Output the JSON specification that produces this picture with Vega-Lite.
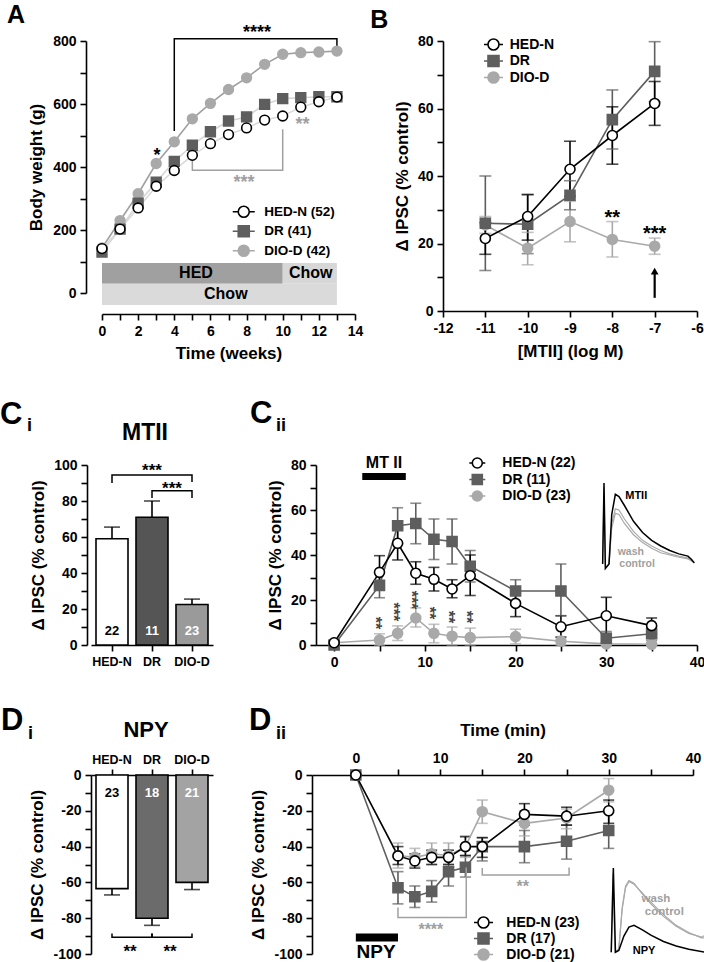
{
"$schema": "https://vega.github.io/schema/vega-lite/v6.json",
"padding": {"left": 0, "top": 3, "right": 0, "bottom": 0},
"spacing": 36,
"resolve": {"scale": {"color": "independent", "fill": "independent", "stroke": "independent", "shape": "independent"}, "legend": {"color": "independent", "fill": "independent", "stroke": "independent", "shape": "independent"}},
"config": {
 "font": "Liberation Sans",
 "view": {"stroke": null},
 "axis": {"domainColor": "#000", "domainWidth": 1.6, "tickColor": "#000", "tickWidth": 1.6, "tickSize": 6, "labelColor": "#000", "labelFontSize": 14, "labelFontWeight": "bold", "labelFont": "Liberation Sans", "labelOverlap": false, "labelFlush": false, "labelPadding": 4, "titleColor": "#000", "titleFontSize": 17, "titleFontWeight": "bold", "titleFont": "Liberation Sans", "titlePadding": 6, "grid": false},
 "legend": {"orient": "none", "title": null, "labelFontSize": 14, "labelFontWeight": "bold", "labelColor": "#000", "labelFont": "Liberation Sans", "symbolStrokeWidth": 1.6, "symbolSize": 100, "padding": 0},
 "text": {"font": "Liberation Sans", "fontWeight": "bold", "color": "#000"}
},
"vconcat": [
 {"hconcat": [
  {
   "width": 264, "height": 252,
   "data": {"values": [
    {"group":"DIO-D","week":0,"bw":143},{"group":"DIO-D","week":1,"bw":230},{"group":"DIO-D","week":2,"bw":315},{"group":"DIO-D","week":3,"bw":411},{"group":"DIO-D","week":4,"bw":480},{"group":"DIO-D","week":5,"bw":553},{"group":"DIO-D","week":6,"bw":602},{"group":"DIO-D","week":7,"bw":646},{"group":"DIO-D","week":8,"bw":683},{"group":"DIO-D","week":9,"bw":726},{"group":"DIO-D","week":10,"bw":758},{"group":"DIO-D","week":11,"bw":763},{"group":"DIO-D","week":12,"bw":765},{"group":"DIO-D","week":13,"bw":768},
    {"group":"DR","week":0,"bw":130},{"group":"DR","week":1,"bw":203},{"group":"DR","week":2,"bw":285},{"group":"DR","week":3,"bw":352},{"group":"DR","week":4,"bw":418},{"group":"DR","week":5,"bw":469},{"group":"DR","week":6,"bw":512},{"group":"DR","week":7,"bw":546},{"group":"DR","week":8,"bw":559},{"group":"DR","week":9,"bw":599},{"group":"DR","week":10,"bw":617},{"group":"DR","week":11,"bw":620},{"group":"DR","week":12,"bw":623},{"group":"DR","week":13,"bw":623},
    {"group":"HED-N","week":0,"bw":141},{"group":"HED-N","week":1,"bw":203},{"group":"HED-N","week":2,"bw":270},{"group":"HED-N","week":3,"bw":339},{"group":"HED-N","week":4,"bw":389},{"group":"HED-N","week":5,"bw":437},{"group":"HED-N","week":6,"bw":474},{"group":"HED-N","week":7,"bw":503},{"group":"HED-N","week":8,"bw":524},{"group":"HED-N","week":9,"bw":549},{"group":"HED-N","week":10,"bw":562},{"group":"HED-N","week":11,"bw":590},{"group":"HED-N","week":12,"bw":607},{"group":"HED-N","week":13,"bw":622}
   ]},
   "encoding": {
    "x": {"field": "week", "type": "quantitative", "scale": {"domain": [0, 14], "range": [11, 264], "nice": false, "zero": false}, "axis": {"values": [0,1,2,3,4,5,6,7,8,9,10,11,12,13,14], "labelExpr": "datum.value % 2 === 0 ? datum.label : ''", "offset": 21, "title": "Time (weeks)", "titlePadding": 7}},
    "y": {"field": "bw", "type": "quantitative", "scale": {"domain": [0, 800], "nice": false, "zero": false}, "axis": {"values": [0,100,200,300,400,500,600,700,800], "labelExpr": "datum.value % 200 === 0 ? datum.label : ''", "offset": 5, "title": "Body weight (g)", "titlePadding": 7}}
   },
   "layer": [
    {"data": {"values": [{"diet":"HED","week":0,"week2":10,"bw":29,"bw2":95},{"diet":"Chow after HED","week":10,"week2":13,"bw":29,"bw2":95},{"diet":"Chow","week":0,"week2":13,"bw":-38,"bw2":29}]},
     "mark": {"type": "rect", "clip": false},
     "encoding": {"x2": {"field": "week2"}, "y2": {"field": "bw2"}, "color": {"field": "diet", "type": "nominal", "scale": {"domain": ["HED","Chow after HED","Chow"], "range": ["#a0a0a0","#d7d7d7","#dadada"]}, "legend": null}}},
    {"data": {"values": [{"label":"HED","week":5.2,"bw":63},{"label":"Chow","week":11.55,"bw":63},{"label":"Chow","week":6.85,"bw":-4}]},
     "mark": {"type": "text", "fontSize": 16, "baseline": "middle"},
     "encoding": {"text": {"field": "label"}}},
    {"data": {"values": [{"br":"a","i":0,"week":4,"bw":514},{"br":"a","i":1,"week":4,"bw":807},{"br":"a","i":2,"week":13,"bw":807},{"br":"a","i":3,"week":13,"bw":779}]},
     "mark": {"type": "line", "color": "#000", "strokeWidth": 1.5},
     "encoding": {"detail": {"field": "br"}, "order": {"field": "i", "type": "quantitative"}}},
    {"data": {"values": [{"br":"b","i":0,"week":5,"bw":440},{"br":"b","i":1,"week":5,"bw":390},{"br":"b","i":2,"week":10,"bw":390},{"br":"b","i":3,"week":10,"bw":520}]},
     "mark": {"type": "line", "color": "#a0a0a0", "strokeWidth": 1.5},
     "encoding": {"detail": {"field": "br"}, "order": {"field": "i", "type": "quantitative"}}},
    {"data": {"values": [{"label":"****","week":8.58,"bw":824},{"label":"*","week":3.05,"bw":435}]},
     "mark": {"type": "text", "fontSize": 18, "baseline": "middle"},
     "encoding": {"text": {"field": "label"}}},
    {"data": {"values": [{"label":"**","week":11.1,"bw":533},{"label":"***","week":7.86,"bw":349}]},
     "mark": {"type": "text", "fontSize": 18, "baseline": "middle", "color": "#a0a0a0"},
     "encoding": {"text": {"field": "label"}}},
    {"data": {"values": [{"label":"A","week":-5.26,"bw":857}]},
     "mark": {"type": "text", "fontSize": 25, "align": "left", "baseline": "alphabetic"},
     "encoding": {"text": {"field": "label"}}},
    {"mark": {"type": "line", "strokeWidth": 1.6},
     "encoding": {"color": {"field": "group", "type": "nominal", "scale": {"domain": ["DIO-D","DR","HED-N"], "range": ["#a9a9a9","#5e5e5e","#000000"]}, "legend": null}}},
    {"transform": [{"filter": "datum.group === 'DIO-D'"}],
     "mark": {"type": "point", "shape": "circle", "filled": true, "size": 95, "strokeWidth": 1.6, "opacity": 1, "fill": "#a9a9a9", "stroke": "#a9a9a9"}},
    {"transform": [{"filter": "datum.group === 'DR'"}],
     "mark": {"type": "point", "shape": "square", "filled": true, "size": 95, "strokeWidth": 1.6, "opacity": 1, "fill": "#5e5e5e", "stroke": "#5e5e5e"}},
    {"transform": [{"filter": "datum.group === 'HED-N'"}],
     "mark": {"type": "point", "shape": "circle", "filled": true, "size": 95, "strokeWidth": 1.6, "opacity": 1, "fill": "#ffffff", "stroke": "#000000"}},
    {"transform": [{"filter": "false"}],
     "mark": {"type": "point", "filled": true, "strokeWidth": 1.6, "opacity": 1},
     "encoding": {
      "stroke": {"field": "group", "type": "nominal", "scale": {"domain": ["HED-N","DR","DIO-D"], "range": ["#000000","#5e5e5e","#a9a9a9"]}, "legend": {"orient": "none", "legendX": 146, "legendY": 164, "labelFontSize": 13.5, "rowPadding": 1.5, "labelOffset": 13.7, "labelExpr": "datum.label === 'HED-N' ? 'HED-N (52)' : datum.label === 'DR' ? 'DR (41)' : 'DIO-D (42)'"}},
      "fill": {"field": "group", "type": "nominal", "scale": {"domain": ["HED-N","DR","DIO-D"], "range": ["#ffffff","#5e5e5e","#a9a9a9"]}, "legend": {"orient": "none", "legendX": 146, "legendY": 164, "labelFontSize": 13.5, "rowPadding": 1.5, "labelOffset": 13.7, "labelExpr": "datum.label === 'HED-N' ? 'HED-N (52)' : datum.label === 'DR' ? 'DR (41)' : 'DIO-D (42)'"}},
      "shape": {"field": "group", "type": "nominal", "scale": {"domain": ["HED-N","DR","DIO-D"], "range": ["M-2.2,0H-1.1M1.1,0H2.2M1.1,0A1.1,1.1,0,1,1,-1.1,0A1.1,1.1,0,1,1,1.1,0Z","M-2.2,0H-1.1M1.1,0H2.2M-1.1,-1.1H1.1V1.1H-1.1Z","M-2.2,0H-1.1M1.1,0H2.2M1.1,0A1.1,1.1,0,1,1,-1.1,0A1.1,1.1,0,1,1,1.1,0Z"]}, "legend": {"orient": "none", "legendX": 146, "legendY": 164, "labelFontSize": 13.5, "rowPadding": 1.5, "labelOffset": 13.7, "labelExpr": "datum.label === 'HED-N' ? 'HED-N (52)' : datum.label === 'DR' ? 'DR (41)' : 'DIO-D (42)'"}}
     }}
   ]
  },
  {
   "width": 254, "height": 270,
   "data": {"values": [
    {"group":"DIO-D","logc":-11,"ipsc":25.5,"lo":23,"hi":28},{"group":"DIO-D","logc":-10,"ipsc":18.6,"lo":13.7,"hi":23.3},{"group":"DIO-D","logc":-9,"ipsc":26.5,"lo":20.5,"hi":32.5},{"group":"DIO-D","logc":-8,"ipsc":21.2,"lo":16,"hi":26.5},{"group":"DIO-D","logc":-7,"ipsc":19.2,"lo":16.8,"hi":21.6},
    {"group":"DR","logc":-11,"ipsc":26,"lo":12,"hi":40},{"group":"DR","logc":-10,"ipsc":25.7,"lo":17,"hi":34.5},{"group":"DR","logc":-9,"ipsc":34.3,"lo":30,"hi":38.6},{"group":"DR","logc":-8,"ipsc":56.7,"lo":48,"hi":65.5},{"group":"DR","logc":-7,"ipsc":71,"lo":62,"hi":79.8},
    {"group":"HED-N","logc":-11,"ipsc":21.5,"lo":16.8,"hi":26.2},{"group":"HED-N","logc":-10,"ipsc":28,"lo":21,"hi":34.5},{"group":"HED-N","logc":-9,"ipsc":42,"lo":34,"hi":50.3},{"group":"HED-N","logc":-8,"ipsc":52,"lo":43.5,"hi":60.5},{"group":"HED-N","logc":-7,"ipsc":61.5,"lo":55,"hi":68}
   ]},
   "encoding": {
    "x": {"field": "logc", "type": "quantitative", "scale": {"domain": [-12, -6], "nice": false, "zero": false}, "axis": {"values": [-12,-11,-10,-9,-8,-7,-6], "labelExpr": "replace(datum.label, '−', '-')", "title": "[MTII] (log M)", "titlePadding": 8}},
    "y": {"field": "ipsc", "type": "quantitative", "scale": {"domain": [0, 80], "nice": false}, "axis": {"values": [0,10,20,30,40,50,60,70,80], "labelExpr": "datum.value % 20 === 0 ? datum.label : ''", "title": "Δ IPSC (% control)"}}
   },
   "layer": [
    {"mark": {"type": "rule", "strokeWidth": 1.6},
     "encoding": {"y": {"field": "lo", "type": "quantitative", "axis": {"values": [0,10,20,30,40,50,60,70,80], "labelExpr": "datum.value % 20 === 0 ? datum.label : ''", "title": "Δ IPSC (% control)"}}, "y2": {"field": "hi"}, "color": {"field": "group", "type": "nominal", "scale": {"domain": ["DIO-D","DR","HED-N"], "range": ["#a9a9a9","#5e5e5e","#000000"]}, "legend": null}}},
    {"mark": {"type": "tick", "orient": "horizontal", "size": 12, "thickness": 1.6},
     "encoding": {"y": {"field": "hi", "type": "quantitative", "axis": {"values": [0,10,20,30,40,50,60,70,80], "labelExpr": "datum.value % 20 === 0 ? datum.label : ''", "title": "Δ IPSC (% control)"}}, "color": {"field": "group", "type": "nominal", "legend": null}}},
    {"mark": {"type": "tick", "orient": "horizontal", "size": 12, "thickness": 1.6},
     "encoding": {"y": {"field": "lo", "type": "quantitative", "axis": {"values": [0,10,20,30,40,50,60,70,80], "labelExpr": "datum.value % 20 === 0 ? datum.label : ''", "title": "Δ IPSC (% control)"}}, "color": {"field": "group", "type": "nominal", "legend": null}}},
    {"mark": {"type": "line", "strokeWidth": 1.6},
     "encoding": {"color": {"field": "group", "type": "nominal", "legend": null}}},
    {"transform": [{"filter": "datum.group === 'DIO-D'"}],
     "mark": {"type": "point", "shape": "circle", "filled": true, "size": 100, "strokeWidth": 1.6, "opacity": 1, "fill": "#a9a9a9", "stroke": "#a9a9a9"}},
    {"transform": [{"filter": "datum.group === 'DR'"}],
     "mark": {"type": "point", "shape": "square", "filled": true, "size": 100, "strokeWidth": 1.6, "opacity": 1, "fill": "#5e5e5e", "stroke": "#5e5e5e"}},
    {"transform": [{"filter": "datum.group === 'HED-N'"}],
     "mark": {"type": "point", "shape": "circle", "filled": true, "size": 100, "strokeWidth": 1.6, "opacity": 1, "fill": "#ffffff", "stroke": "#000000"}},
    {"transform": [{"filter": "false"}],
     "mark": {"type": "point", "filled": true, "strokeWidth": 1.6, "opacity": 1},
     "encoding": {
      "stroke": {"field": "group", "type": "nominal", "scale": {"domain": ["HED-N","DR","DIO-D"], "range": ["#000000","#5e5e5e","#a9a9a9"]}, "legend": {"orient": "none", "legendX": 43.5, "legendY": -3.5, "rowPadding": -1.5, "labelOffset": 9.2}},
      "fill": {"field": "group", "type": "nominal", "scale": {"domain": ["HED-N","DR","DIO-D"], "range": ["#ffffff","#5e5e5e","#a9a9a9"]}, "legend": {"orient": "none", "legendX": 43.5, "legendY": -3.5, "rowPadding": -1.5, "labelOffset": 9.2}},
      "shape": {"field": "group", "type": "nominal", "scale": {"domain": ["HED-N","DR","DIO-D"], "range": ["M-1.9,0H-1.1M1.1,0H1.9M1.1,0A1.1,1.1,0,1,1,-1.1,0A1.1,1.1,0,1,1,1.1,0Z","M-1.9,0H-1.1M1.1,0H1.9M-1.1,-1.1H1.1V1.1H-1.1Z","M-1.9,0H-1.1M1.1,0H1.9M1.1,0A1.1,1.1,0,1,1,-1.1,0A1.1,1.1,0,1,1,1.1,0Z"]}, "legend": {"orient": "none", "legendX": 43.5, "legendY": -3.5, "rowPadding": -1.5, "labelOffset": 9.2}}
     }},
    {"data": {"values": [{"label":"**","logc":-8,"ipsc":27.6},{"label":"***","logc":-7,"ipsc":22.8}]},
     "mark": {"type": "text", "fontSize": 20, "baseline": "middle"},
     "encoding": {"text": {"field": "label"}}},
    {"data": {"values": [{"logc":-7,"ipsc":3.9,"ipsc2":11}]},
     "mark": {"type": "rule", "strokeWidth": 2.2, "color": "#000"},
     "encoding": {"y2": {"field": "ipsc2"}}},
    {"data": {"values": [{"logc":-7,"ipsc":11.8}]},
     "mark": {"type": "point", "shape": "triangle-up", "filled": true, "size": 60, "color": "#000", "opacity": 1}},
    {"data": {"values": [{"label":"B","logc":-13.72,"ipsc":83.8}]},
     "mark": {"type": "text", "fontSize": 25, "align": "left", "baseline": "alphabetic"},
     "encoding": {"text": {"field": "label"}}}
   ]
  }
 ], "spacing": 88, "bounds": "flush",
 "resolve": {"scale": {"color": "independent", "fill": "independent", "stroke": "independent", "shape": "independent"}, "legend": {"color": "independent", "fill": "independent", "stroke": "independent", "shape": "independent"}}},
 {"spacing": 36,
  "resolve": {"scale": {"color": "independent", "fill": "independent", "stroke": "independent", "shape": "independent"}, "legend": {"color": "independent", "fill": "independent", "stroke": "independent", "shape": "independent"}},
  "vconcat": [
  {"hconcat": [
   {
    "width": 122, "height": 180,
    "data": {"values": [{"group":"HED-N","ipsc":59,"hi":65.5,"n":"22"},{"group":"DR","ipsc":71,"hi":80,"n":"11"},{"group":"DIO-D","ipsc":22.5,"hi":25.5,"n":"23"}]},
    "encoding": {
     "x": {"field": "group", "type": "nominal", "scale": {"domain": ["HED-N","DR","DIO-D"], "paddingInner": 0.2, "paddingOuter": 0.125}, "axis": {"title": null, "labelAngle": 0, "labelFontSize": 12.5, "labelPadding": 4}},
     "y": {"field": "ipsc", "type": "quantitative", "scale": {"domain": [0, 100], "nice": false}, "axis": {"values": [0,10,20,30,40,50,60,70,80,90,100], "labelExpr": "datum.value % 20 === 0 ? datum.label : ''", "offset": 4, "title": "Δ IPSC (% control)"}}
    },
    "layer": [
     {"mark": {"type": "bar", "stroke": "#000", "strokeWidth": 1.6},
      "encoding": {"fill": {"field": "group", "type": "nominal", "scale": {"domain": ["HED-N","DR","DIO-D"], "range": ["#ffffff","#555555","#9a9a9a"]}, "legend": null}}},
     {"mark": {"type": "rule", "strokeWidth": 1.6, "color": "#000"},
      "encoding": {"y2": {"field": "hi"}}},
     {"mark": {"type": "tick", "orient": "horizontal", "size": 16, "thickness": 1.6, "color": "#000"},
      "encoding": {"y": {"field": "hi", "type": "quantitative", "axis": {"values": [0,10,20,30,40,50,60,70,80,90,100], "labelExpr": "datum.value % 20 === 0 ? datum.label : ''", "offset": 4, "title": "Δ IPSC (% control)"}}}},
     {"mark": {"type": "text", "fontSize": 13, "baseline": "middle"},
      "encoding": {"y": {"datum": 7.8, "type": "quantitative", "axis": {"values": [0,10,20,30,40,50,60,70,80,90,100], "labelExpr": "datum.value % 20 === 0 ? datum.label : ''", "offset": 4, "title": "Δ IPSC (% control)"}}, "text": {"field": "n"}, "color": {"field": "group", "type": "nominal", "scale": {"domain": ["HED-N","DR","DIO-D"], "range": ["#000000","#ffffff","#ffffff"]}, "legend": null}}},
     {"data": {"values": [{"br":"a","i":0,"group":"HED-N","ipsc":90},{"br":"a","i":1,"group":"HED-N","ipsc":94.4},{"br":"a","i":2,"group":"DIO-D","ipsc":94.4},{"br":"a","i":3,"group":"DIO-D","ipsc":90.5},{"br":"b","i":0,"group":"DR","ipsc":81.7},{"br":"b","i":1,"group":"DR","ipsc":85.7},{"br":"b","i":2,"group":"DIO-D","ipsc":85.7},{"br":"b","i":3,"group":"DIO-D","ipsc":81.7}]},
      "mark": {"type": "line", "color": "#000", "strokeWidth": 1.5},
      "encoding": {"detail": {"field": "br"}, "order": {"field": "i", "type": "quantitative"}}},
     {"data": {"values": [{"label":"***","group":"DR","ipsc":96.7}]},
      "mark": {"type": "text", "fontSize": 17, "baseline": "middle"},
      "encoding": {"text": {"field": "label"}}},
     {"data": {"values": [{"label":"***","group":"DIO-D","ipsc":86.7}]},
      "mark": {"type": "text", "fontSize": 17, "baseline": "middle", "dx": -20},
      "encoding": {"text": {"field": "label"}}},
     {"data": {"values": [{"label":"MTII","group":"DR","ipsc":117.8}]},
      "mark": {"type": "text", "fontSize": 23, "baseline": "middle", "dx": -7},
      "encoding": {"text": {"field": "label"}}},
     {"data": {"values": [{"label":"C","group":"HED-N","ipsc":123}]},
      "mark": {"type": "text", "fontSize": 31, "align": "left", "baseline": "alphabetic", "dx": -112},
      "encoding": {"text": {"field": "label"}}},
     {"data": {"values": [{"label":"i","group":"HED-N","ipsc":119}]},
      "mark": {"type": "text", "fontSize": 18, "align": "left", "baseline": "alphabetic", "dx": -85},
      "encoding": {"text": {"field": "label"}}}
    ]
   },
   {
    "width": 381, "height": 180,
    "data": {"values": [
     {"group":"DIO-D","t":0,"ipsc":1,"lo":0,"hi":2},{"group":"DIO-D","t":5,"ipsc":2.2,"lo":0,"hi":5},{"group":"DIO-D","t":7,"ipsc":5.2,"lo":2,"hi":8.5},{"group":"DIO-D","t":9,"ipsc":12,"lo":8,"hi":16.5},{"group":"DIO-D","t":11,"ipsc":5.2,"lo":1,"hi":9.2},{"group":"DIO-D","t":13,"ipsc":3.9,"lo":0,"hi":8},{"group":"DIO-D","t":15,"ipsc":3.3,"lo":0,"hi":7.5},{"group":"DIO-D","t":20,"ipsc":3.7,"lo":0.5,"hi":7},{"group":"DIO-D","t":25,"ipsc":1.7,"lo":0,"hi":3.5},{"group":"DIO-D","t":30,"ipsc":0.5,"lo":0,"hi":1.5},{"group":"DIO-D","t":35,"ipsc":0.3,"lo":0,"hi":1},
     {"group":"DR","t":0,"ipsc":0,"lo":0,"hi":0.5},{"group":"DR","t":5,"ipsc":26.5,"lo":21,"hi":32},{"group":"DR","t":7,"ipsc":53,"lo":45,"hi":61},{"group":"DR","t":9,"ipsc":54,"lo":45,"hi":63},{"group":"DR","t":11,"ipsc":47,"lo":38,"hi":56},{"group":"DR","t":13,"ipsc":46,"lo":36,"hi":56},{"group":"DR","t":15,"ipsc":35,"lo":28,"hi":42},{"group":"DR","t":20,"ipsc":24,"lo":19,"hi":29},{"group":"DR","t":25,"ipsc":24,"lo":13,"hi":36},{"group":"DR","t":30,"ipsc":3,"lo":0,"hi":6},{"group":"DR","t":35,"ipsc":5,"lo":2,"hi":8},
     {"group":"HED-N","t":0,"ipsc":1,"lo":0,"hi":2},{"group":"HED-N","t":5,"ipsc":32.3,"lo":25,"hi":39.7},{"group":"HED-N","t":7,"ipsc":45.2,"lo":37.8,"hi":52},{"group":"HED-N","t":9,"ipsc":31.9,"lo":27,"hi":37},{"group":"HED-N","t":11,"ipsc":29.2,"lo":24,"hi":34.5},{"group":"HED-N","t":13,"ipsc":24.9,"lo":21,"hi":29},{"group":"HED-N","t":15,"ipsc":30.8,"lo":22,"hi":40},{"group":"HED-N","t":20,"ipsc":18.5,"lo":12.6,"hi":23},{"group":"HED-N","t":25,"ipsc":8.1,"lo":3.5,"hi":13},{"group":"HED-N","t":30,"ipsc":13,"lo":5,"hi":21.2},{"group":"HED-N","t":35,"ipsc":8.6,"lo":5,"hi":12}
    ]},
    "encoding": {
     "x": {"field": "t", "type": "quantitative", "scale": {"domain": [-2, 40], "nice": false, "zero": false}, "axis": {"values": [0,5,10,15,20,25,30,35,40], "labelExpr": "datum.value % 10 === 0 ? datum.label : ''", "title": null}},
     "y": {"field": "ipsc", "type": "quantitative", "scale": {"domain": [0, 80], "nice": false}, "axis": {"values": [0,10,20,30,40,50,60,70,80], "labelExpr": "datum.value % 20 === 0 ? datum.label : ''", "title": "Δ IPSC (% control)"}}
    },
    "layer": [
     {"mark": {"type": "rule", "strokeWidth": 1.6},
      "encoding": {"y": {"field": "lo", "type": "quantitative", "axis": {"values": [0,10,20,30,40,50,60,70,80], "labelExpr": "datum.value % 20 === 0 ? datum.label : ''", "title": "Δ IPSC (% control)"}}, "y2": {"field": "hi"}, "color": {"field": "group", "type": "nominal", "scale": {"domain": ["DIO-D","DR","HED-N"], "range": ["#a9a9a9","#5e5e5e","#000000"]}, "legend": null}}},
     {"mark": {"type": "tick", "orient": "horizontal", "size": 11, "thickness": 1.6},
      "encoding": {"y": {"field": "hi", "type": "quantitative", "axis": {"values": [0,10,20,30,40,50,60,70,80], "labelExpr": "datum.value % 20 === 0 ? datum.label : ''", "title": "Δ IPSC (% control)"}}, "color": {"field": "group", "type": "nominal", "legend": null}}},
     {"mark": {"type": "tick", "orient": "horizontal", "size": 11, "thickness": 1.6},
      "encoding": {"y": {"field": "lo", "type": "quantitative", "axis": {"values": [0,10,20,30,40,50,60,70,80], "labelExpr": "datum.value % 20 === 0 ? datum.label : ''", "title": "Δ IPSC (% control)"}}, "color": {"field": "group", "type": "nominal", "legend": null}}},
     {"mark": {"type": "line", "strokeWidth": 1.6},
      "encoding": {"color": {"field": "group", "type": "nominal", "legend": null}}},
     {"transform": [{"filter": "datum.group === 'DIO-D'"}],
      "mark": {"type": "point", "shape": "circle", "filled": true, "size": 100, "strokeWidth": 1.6, "opacity": 1, "fill": "#a9a9a9", "stroke": "#a9a9a9"}},
     {"transform": [{"filter": "datum.group === 'DR'"}],
      "mark": {"type": "point", "shape": "square", "filled": true, "size": 100, "strokeWidth": 1.6, "opacity": 1, "fill": "#5e5e5e", "stroke": "#5e5e5e"}},
     {"transform": [{"filter": "datum.group === 'HED-N'"}],
      "mark": {"type": "point", "shape": "circle", "filled": true, "size": 100, "strokeWidth": 1.6, "opacity": 1, "fill": "#ffffff", "stroke": "#000000"}},
     {"transform": [{"filter": "false"}],
      "mark": {"type": "point", "filled": true, "strokeWidth": 1.6, "opacity": 1},
      "encoding": {
       "stroke": {"field": "group", "type": "nominal", "scale": {"domain": ["HED-N","DR","DIO-D"], "range": ["#000000","#5e5e5e","#a9a9a9"]}, "legend": {"orient": "none", "legendX": 154.3, "legendY": -9, "rowPadding": -1.5, "labelOffset": 18, "labelExpr": "datum.label === 'HED-N' ? 'HED-N (22)' : datum.label === 'DR' ? 'DR (11)' : 'DIO-D (23)'"}},
       "fill": {"field": "group", "type": "nominal", "scale": {"domain": ["HED-N","DR","DIO-D"], "range": ["#ffffff","#5e5e5e","#a9a9a9"]}, "legend": {"orient": "none", "legendX": 154.3, "legendY": -9, "rowPadding": -1.5, "labelOffset": 18, "labelExpr": "datum.label === 'HED-N' ? 'HED-N (22)' : datum.label === 'DR' ? 'DR (11)' : 'DIO-D (23)'"}},
       "shape": {"field": "group", "type": "nominal", "scale": {"domain": ["HED-N","DR","DIO-D"], "range": ["M-1.6,0H-1M1,0H1.6M1,0A1,1,0,1,1,-1,0A1,1,0,1,1,1,0Z","M-1.6,0H-1M1,0H1.6M-1,-1H1V1H-1Z","M-1.6,0H-1M1,0H1.6M1,0A1,1,0,1,1,-1,0A1,1,0,1,1,1,0Z"]}, "legend": {"orient": "none", "legendX": 154.3, "legendY": -9, "rowPadding": -1.5, "labelOffset": 18, "labelExpr": "datum.label === 'HED-N' ? 'HED-N (22)' : datum.label === 'DR' ? 'DR (11)' : 'DIO-D (23)'"}}
      }},
     {"data": {"values": [{"label":"**","t":5,"ipsc":9.8},{"label":"***","t":7,"ipsc":14.7},{"label":"***","t":9,"ipsc":20},{"label":"**","t":11,"ipsc":14.2},{"label":"**","t":13,"ipsc":12.5},{"label":"**","t":15,"ipsc":12.5}]},
      "mark": {"type": "text", "fontSize": 16, "baseline": "middle", "angle": 90, "dy": 4.5, "color": "#444444"},
      "encoding": {"text": {"field": "label"}}},
     {"data": {"values": [{"t":3.1,"t2":7.9,"ipsc":73.3,"ipsc2":76.4}]},
      "mark": {"type": "rect", "color": "#000", "clip": false},
      "encoding": {"x2": {"field": "t2"}, "y2": {"field": "ipsc2"}}},
     {"data": {"values": [{"label":"MT II","t":5.5,"ipsc":80.9}]},
      "mark": {"type": "text", "fontSize": 16, "baseline": "middle"},
      "encoding": {"text": {"field": "label"}}},
     {"data": {"values": [
       {"trace":"control","t":29.6,"ipsc":36},{"trace":"control","t":29.75,"ipsc":70},{"trace":"control","t":29.9,"ipsc":34},{"trace":"control","t":30.3,"ipsc":36},{"trace":"control","t":30.6,"ipsc":52},{"trace":"control","t":31.0,"ipsc":58.5},{"trace":"control","t":31.4,"ipsc":58},{"trace":"control","t":32,"ipsc":54},{"trace":"control","t":33,"ipsc":49},{"trace":"control","t":34,"ipsc":45.5},{"trace":"control","t":35,"ipsc":43},{"trace":"control","t":36,"ipsc":41},{"trace":"control","t":37,"ipsc":40},{"trace":"control","t":38,"ipsc":39},{"trace":"control","t":39,"ipsc":38.3},{"trace":"control","t":39.7,"ipsc":36.5},
       {"trace":"wash","t":30.3,"ipsc":36},{"trace":"wash","t":30.6,"ipsc":54},{"trace":"wash","t":31.0,"ipsc":60.5},{"trace":"wash","t":31.4,"ipsc":60},{"trace":"wash","t":32,"ipsc":56},{"trace":"wash","t":33,"ipsc":50.5},{"trace":"wash","t":34,"ipsc":46.5},{"trace":"wash","t":35,"ipsc":44},{"trace":"wash","t":36,"ipsc":42},{"trace":"wash","t":37,"ipsc":40.5},{"trace":"wash","t":38,"ipsc":39.5},{"trace":"wash","t":39,"ipsc":38.6},{"trace":"wash","t":39.7,"ipsc":36.8}
      ]},
      "mark": {"type": "line", "color": "#a9a9a9", "strokeWidth": 1.2, "clip": false},
      "encoding": {"detail": {"field": "trace"}}},
     {"data": {"values": [
       {"trace":"MTII","t":29.6,"ipsc":36},{"trace":"MTII","t":29.75,"ipsc":72},{"trace":"MTII","t":29.9,"ipsc":34},{"trace":"MTII","t":30.3,"ipsc":36},{"trace":"MTII","t":30.6,"ipsc":58},{"trace":"MTII","t":31.0,"ipsc":67},{"trace":"MTII","t":31.4,"ipsc":66},{"trace":"MTII","t":32,"ipsc":62},{"trace":"MTII","t":33,"ipsc":55},{"trace":"MTII","t":34,"ipsc":50},{"trace":"MTII","t":35,"ipsc":46.5},{"trace":"MTII","t":36,"ipsc":44},{"trace":"MTII","t":37,"ipsc":42},{"trace":"MTII","t":38,"ipsc":40.5},{"trace":"MTII","t":39,"ipsc":39.5},{"trace":"MTII","t":39.4,"ipsc":38},{"trace":"MTII","t":39.7,"ipsc":36.5}
      ]},
      "mark": {"type": "line", "color": "#000", "strokeWidth": 1.5, "clip": false},
      "encoding": {"detail": {"field": "trace"}}},
     {"data": {"values": [{"label":"wash","t":32.7,"ipsc":41.2},{"label":"control","t":33.4,"ipsc":36.2}]},
      "mark": {"type": "text", "fontSize": 10.5, "baseline": "middle", "color": "#a0a0a0"},
      "encoding": {"text": {"field": "label"}}},
     {"data": {"values": [{"label":"MTII","t":33.3,"ipsc":66.2}]},
      "mark": {"type": "text", "fontSize": 11, "baseline": "middle"},
      "encoding": {"text": {"field": "label"}}},
     {"data": {"values": [{"label":"C","t":-9.27,"ipsc":98.7}]},
      "mark": {"type": "text", "fontSize": 31, "align": "left", "baseline": "alphabetic"},
      "encoding": {"text": {"field": "label"}}},
     {"data": {"values": [{"label":"ii","t":-6.41,"ipsc":95.1}]},
      "mark": {"type": "text", "fontSize": 18, "align": "left", "baseline": "alphabetic"},
      "encoding": {"text": {"field": "label"}}}
    ]
   }
  ], "spacing": 103, "bounds": "flush",
  "resolve": {"scale": {"color": "independent", "fill": "independent", "stroke": "independent", "shape": "independent"}, "legend": {"color": "independent", "fill": "independent", "stroke": "independent", "shape": "independent"}}},
  {"hconcat": [
   {
    "width": 122, "height": 179,
    "data": {"values": [{"group":"HED-N","ipsc":-63.5,"lo":-67,"n":"23"},{"group":"DR","ipsc":-80,"lo":-84,"n":"18"},{"group":"DIO-D","ipsc":-60,"lo":-64,"n":"21"}]},
    "encoding": {
     "x": {"field": "group", "type": "nominal", "scale": {"domain": ["HED-N","DR","DIO-D"], "paddingInner": 0.2, "paddingOuter": 0.125}, "axis": {"orient": "top", "title": null, "labelAngle": 0, "labelFontSize": 12.5, "labelPadding": 3}},
     "y": {"field": "ipsc", "type": "quantitative", "scale": {"domain": [-100, 0], "nice": false}, "axis": {"values": [-100,-90,-80,-70,-60,-50,-40,-30,-20,-10,0], "labelExpr": "datum.value % 20 === 0 ? replace(datum.label, '−', '-') : ''", "title": "Δ IPSC (% control)"}}
    },
    "layer": [
     {"mark": {"type": "bar", "stroke": "#000", "strokeWidth": 1.6},
      "encoding": {"fill": {"field": "group", "type": "nominal", "scale": {"domain": ["HED-N","DR","DIO-D"], "range": ["#ffffff","#6b6b6b","#a3a3a3"]}, "legend": null}}},
     {"mark": {"type": "rule", "strokeWidth": 1.6, "color": "#000"},
      "encoding": {"y2": {"field": "lo"}}},
     {"mark": {"type": "tick", "orient": "horizontal", "size": 16, "thickness": 1.6, "color": "#000"},
      "encoding": {"y": {"field": "lo", "type": "quantitative", "axis": {"values": [-100,-90,-80,-70,-60,-50,-40,-30,-20,-10,0], "labelExpr": "datum.value % 20 === 0 ? replace(datum.label, '−', '-') : ''", "title": "Δ IPSC (% control)"}}}},
     {"mark": {"type": "text", "fontSize": 13, "baseline": "middle"},
      "encoding": {"y": {"datum": -10, "type": "quantitative", "axis": {"values": [-100,-90,-80,-70,-60,-50,-40,-30,-20,-10,0], "labelExpr": "datum.value % 20 === 0 ? replace(datum.label, '−', '-') : ''", "title": "Δ IPSC (% control)"}}, "text": {"field": "n"}, "color": {"field": "group", "type": "nominal", "scale": {"domain": ["HED-N","DR","DIO-D"], "range": ["#000000","#ffffff","#ffffff"]}, "legend": null}}},
     {"data": {"values": [{"br":"a","i":0,"group":"HED-N","ipsc":-88.5},{"br":"a","i":1,"group":"HED-N","ipsc":-90.7},{"br":"a","i":2,"group":"DR","ipsc":-90.7},{"br":"a","i":3,"group":"DR","ipsc":-88.5},{"br":"b","i":0,"group":"DR","ipsc":-88.5},{"br":"b","i":1,"group":"DR","ipsc":-90.7},{"br":"b","i":2,"group":"DIO-D","ipsc":-90.7},{"br":"b","i":3,"group":"DIO-D","ipsc":-88.5}]},
      "mark": {"type": "line", "color": "#000", "strokeWidth": 1.5},
      "encoding": {"detail": {"field": "br"}, "order": {"field": "i", "type": "quantitative"}}},
     {"data": {"values": [{"label":"**","group":"HED-N","ipsc":-98.9},{"label":"**","group":"DR","ipsc":-98.9}]},
      "mark": {"type": "text", "fontSize": 17, "baseline": "middle", "dx": 18},
      "encoding": {"text": {"field": "label"}}},
     {"data": {"values": [{"label":"NPY","group":"DR","ipsc":25}]},
      "mark": {"type": "text", "fontSize": 22, "baseline": "middle", "dx": -6},
      "encoding": {"text": {"field": "label"}}},
     {"data": {"values": [{"label":"D","group":"HED-N","ipsc":25.1}]},
      "mark": {"type": "text", "fontSize": 31, "align": "left", "baseline": "alphabetic", "dx": -111},
      "encoding": {"text": {"field": "label"}}},
     {"data": {"values": [{"label":"i","group":"HED-N","ipsc":20.1}]},
      "mark": {"type": "text", "fontSize": 18, "align": "left", "baseline": "alphabetic", "dx": -84},
      "encoding": {"text": {"field": "label"}}}
    ]
   },
   {
    "width": 381, "height": 179,
    "data": {"values": [
     {"group":"DIO-D","t":0,"ipsc":0,"lo":0,"hi":0},{"group":"DIO-D","t":5,"ipsc":-45,"lo":-52,"hi":-38},{"group":"DIO-D","t":7,"ipsc":-46,"lo":-51,"hi":-41},{"group":"DIO-D","t":9,"ipsc":-44,"lo":-50,"hi":-38},{"group":"DIO-D","t":11,"ipsc":-45,"lo":-50,"hi":-38},{"group":"DIO-D","t":13,"ipsc":-40,"lo":-46,"hi":-34},{"group":"DIO-D","t":15,"ipsc":-20.5,"lo":-27,"hi":-14},{"group":"DIO-D","t":20,"ipsc":-27,"lo":-34,"hi":-20},{"group":"DIO-D","t":25,"ipsc":-24,"lo":-30,"hi":-19},{"group":"DIO-D","t":30,"ipsc":-8.5,"lo":-15,"hi":-2},
     {"group":"DR","t":0,"ipsc":0,"lo":0,"hi":0},{"group":"DR","t":5,"ipsc":-63,"lo":-72,"hi":-54},{"group":"DR","t":7,"ipsc":-68,"lo":-74,"hi":-62},{"group":"DR","t":9,"ipsc":-65,"lo":-71,"hi":-59},{"group":"DR","t":11,"ipsc":-54,"lo":-62,"hi":-46},{"group":"DR","t":13,"ipsc":-51.5,"lo":-57,"hi":-45},{"group":"DR","t":15,"ipsc":-40,"lo":-48,"hi":-35},{"group":"DR","t":20,"ipsc":-40,"lo":-49,"hi":-31},{"group":"DR","t":25,"ipsc":-37,"lo":-47,"hi":-28},{"group":"DR","t":30,"ipsc":-31,"lo":-41,"hi":-21},
     {"group":"HED-N","t":0,"ipsc":0,"lo":0,"hi":0},{"group":"HED-N","t":5,"ipsc":-45.2,"lo":-50,"hi":-40},{"group":"HED-N","t":7,"ipsc":-48,"lo":-52,"hi":-44},{"group":"HED-N","t":9,"ipsc":-46,"lo":-50,"hi":-42},{"group":"HED-N","t":11,"ipsc":-46,"lo":-50,"hi":-42},{"group":"HED-N","t":13,"ipsc":-40,"lo":-45,"hi":-34.5},{"group":"HED-N","t":15,"ipsc":-40,"lo":-46,"hi":-35},{"group":"HED-N","t":20,"ipsc":-22,"lo":-28,"hi":-16},{"group":"HED-N","t":25,"ipsc":-23,"lo":-28,"hi":-18},{"group":"HED-N","t":30,"ipsc":-20,"lo":-27,"hi":-14}
    ]},
    "encoding": {
     "x": {"field": "t", "type": "quantitative", "scale": {"domain": [-5.2, 40], "nice": false, "zero": false}, "axis": {"orient": "top", "values": [0,5,10,15,20,25,30,35,40], "labelExpr": "datum.value % 10 === 0 ? datum.label : ''", "title": "Time (min)", "titlePadding": 12}},
     "y": {"field": "ipsc", "type": "quantitative", "scale": {"domain": [-100, 0], "nice": false}, "axis": {"values": [-100,-90,-80,-70,-60,-50,-40,-30,-20,-10,0], "labelExpr": "datum.value % 20 === 0 ? replace(datum.label, '−', '-') : ''", "title": "Δ IPSC (% control)"}}
    },
    "layer": [
     {"mark": {"type": "rule", "strokeWidth": 1.6},
      "encoding": {"y": {"field": "lo", "type": "quantitative", "axis": {"values": [-100,-90,-80,-70,-60,-50,-40,-30,-20,-10,0], "labelExpr": "datum.value % 20 === 0 ? replace(datum.label, '−', '-') : ''", "title": "Δ IPSC (% control)"}}, "y2": {"field": "hi"}, "color": {"field": "group", "type": "nominal", "scale": {"domain": ["DIO-D","DR","HED-N"], "range": ["#a9a9a9","#5e5e5e","#000000"]}, "legend": null}}},
     {"mark": {"type": "tick", "orient": "horizontal", "size": 11, "thickness": 1.6},
      "encoding": {"y": {"field": "hi", "type": "quantitative", "axis": {"values": [-100,-90,-80,-70,-60,-50,-40,-30,-20,-10,0], "labelExpr": "datum.value % 20 === 0 ? replace(datum.label, '−', '-') : ''", "title": "Δ IPSC (% control)"}}, "color": {"field": "group", "type": "nominal", "legend": null}}},
     {"mark": {"type": "tick", "orient": "horizontal", "size": 11, "thickness": 1.6},
      "encoding": {"y": {"field": "lo", "type": "quantitative", "axis": {"values": [-100,-90,-80,-70,-60,-50,-40,-30,-20,-10,0], "labelExpr": "datum.value % 20 === 0 ? replace(datum.label, '−', '-') : ''", "title": "Δ IPSC (% control)"}}, "color": {"field": "group", "type": "nominal", "legend": null}}},
     {"mark": {"type": "line", "strokeWidth": 1.6},
      "encoding": {"color": {"field": "group", "type": "nominal", "legend": null}}},
     {"transform": [{"filter": "datum.group === 'DIO-D'"}],
      "mark": {"type": "point", "shape": "circle", "filled": true, "size": 100, "strokeWidth": 1.6, "opacity": 1, "fill": "#a9a9a9", "stroke": "#a9a9a9"}},
     {"transform": [{"filter": "datum.group === 'DR'"}],
      "mark": {"type": "point", "shape": "square", "filled": true, "size": 100, "strokeWidth": 1.6, "opacity": 1, "fill": "#5e5e5e", "stroke": "#5e5e5e"}},
     {"transform": [{"filter": "datum.group === 'HED-N'"}],
      "mark": {"type": "point", "shape": "circle", "filled": true, "size": 100, "strokeWidth": 1.6, "opacity": 1, "fill": "#ffffff", "stroke": "#000000"}},
     {"transform": [{"filter": "false"}],
      "mark": {"type": "point", "filled": true, "strokeWidth": 1.6, "opacity": 1},
      "encoding": {
       "stroke": {"field": "group", "type": "nominal", "scale": {"domain": ["HED-N","DR","DIO-D"], "range": ["#000000","#5e5e5e","#a9a9a9"]}, "legend": {"orient": "none", "legendX": 164.5, "legendY": 140.5, "rowPadding": -2, "labelOffset": 15.8, "labelExpr": "datum.label === 'HED-N' ? 'HED-N (23)' : datum.label === 'DR' ? 'DR (17)' : 'DIO-D (21)'"}},
       "fill": {"field": "group", "type": "nominal", "scale": {"domain": ["HED-N","DR","DIO-D"], "range": ["#ffffff","#5e5e5e","#a9a9a9"]}, "legend": {"orient": "none", "legendX": 164.5, "legendY": 140.5, "rowPadding": -2, "labelOffset": 15.8, "labelExpr": "datum.label === 'HED-N' ? 'HED-N (23)' : datum.label === 'DR' ? 'DR (17)' : 'DIO-D (21)'"}},
       "shape": {"field": "group", "type": "nominal", "scale": {"domain": ["HED-N","DR","DIO-D"], "range": ["M-1.9,0H-1.1M1.1,0H1.9M1.1,0A1.1,1.1,0,1,1,-1.1,0A1.1,1.1,0,1,1,1.1,0Z","M-1.9,0H-1.1M1.1,0H1.9M-1.1,-1.1H1.1V1.1H-1.1Z","M-1.9,0H-1.1M1.1,0H1.9M1.1,0A1.1,1.1,0,1,1,-1.1,0A1.1,1.1,0,1,1,1.1,0Z"]}, "legend": {"orient": "none", "legendX": 164.5, "legendY": 140.5, "rowPadding": -2, "labelOffset": 15.8, "labelExpr": "datum.label === 'HED-N' ? 'HED-N (23)' : datum.label === 'DR' ? 'DR (17)' : 'DIO-D (21)'"}}
      }},
     {"data": {"values": [{"br":"a","i":0,"t":5,"ipsc":-74},{"br":"a","i":1,"t":5,"ipsc":-79.6},{"br":"a","i":2,"t":13.1,"ipsc":-79.6},{"br":"a","i":3,"t":13.1,"ipsc":-51.7},{"br":"b","i":0,"t":15,"ipsc":-52},{"br":"b","i":1,"t":15,"ipsc":-55.8},{"br":"b","i":2,"t":25.3,"ipsc":-55.8},{"br":"b","i":3,"t":25.3,"ipsc":-51.7}]},
      "mark": {"type": "line", "color": "#a0a0a0", "strokeWidth": 1.5},
      "encoding": {"detail": {"field": "br"}, "order": {"field": "i", "type": "quantitative"}}},
     {"data": {"values": [{"label":"****","t":8.9,"ipsc":-86.4},{"label":"**","t":19.8,"ipsc":-62.3}]},
      "mark": {"type": "text", "fontSize": 16, "baseline": "middle", "color": "#a0a0a0"},
      "encoding": {"text": {"field": "label"}}},
     {"data": {"values": [{"t":0,"t2":5,"ipsc":-88.5,"ipsc2":-93}]},
      "mark": {"type": "rect", "color": "#000"},
      "encoding": {"x2": {"field": "t2"}, "y2": {"field": "ipsc2"}}},
     {"data": {"values": [{"label":"NPY","t":2.4,"ipsc":-99}]},
      "mark": {"type": "text", "fontSize": 19, "baseline": "middle"},
      "encoding": {"text": {"field": "label"}}},
     {"data": {"values": [
       {"trace":"control","t":30.3,"ipsc":-99},{"trace":"control","t":30.5,"ipsc":-55},{"trace":"control","t":30.75,"ipsc":-99},{"trace":"control","t":31.2,"ipsc":-97},{"trace":"control","t":31.6,"ipsc":-75},{"trace":"control","t":32.0,"ipsc":-63},{"trace":"control","t":32.4,"ipsc":-59.5},{"trace":"control","t":33,"ipsc":-61},{"trace":"control","t":34,"ipsc":-66},{"trace":"control","t":35,"ipsc":-71},{"trace":"control","t":36.5,"ipsc":-78},{"trace":"control","t":38,"ipsc":-84},{"trace":"control","t":39.5,"ipsc":-88},{"trace":"control","t":41,"ipsc":-91},{"trace":"control","t":41.5,"ipsc":-91},
       {"trace":"wash","t":31.2,"ipsc":-97},{"trace":"wash","t":31.6,"ipsc":-74},{"trace":"wash","t":32.0,"ipsc":-62},{"trace":"wash","t":32.4,"ipsc":-59},{"trace":"wash","t":33,"ipsc":-60.5},{"trace":"wash","t":34,"ipsc":-66.5},{"trace":"wash","t":35,"ipsc":-72},{"trace":"wash","t":36.5,"ipsc":-79},{"trace":"wash","t":38,"ipsc":-84.5},{"trace":"wash","t":39.5,"ipsc":-88.5},{"trace":"wash","t":41,"ipsc":-90.5},{"trace":"wash","t":41.5,"ipsc":-89.5}
      ]},
      "mark": {"type": "line", "color": "#a9a9a9", "strokeWidth": 1.2, "clip": false},
      "encoding": {"detail": {"field": "trace"}}},
     {"data": {"values": [
       {"trace":"NPY","t":30.3,"ipsc":-99},{"trace":"NPY","t":30.55,"ipsc":-52},{"trace":"NPY","t":30.8,"ipsc":-99},{"trace":"NPY","t":31.2,"ipsc":-98},{"trace":"NPY","t":31.8,"ipsc":-90},{"trace":"NPY","t":32.4,"ipsc":-85},{"trace":"NPY","t":33,"ipsc":-84},{"trace":"NPY","t":34,"ipsc":-86.5},{"trace":"NPY","t":35,"ipsc":-89.5},{"trace":"NPY","t":36.5,"ipsc":-93},{"trace":"NPY","t":38,"ipsc":-95.5},{"trace":"NPY","t":39.5,"ipsc":-97.3},{"trace":"NPY","t":41.5,"ipsc":-99}
      ]},
      "mark": {"type": "line", "color": "#000", "strokeWidth": 1.5, "clip": false},
      "encoding": {"detail": {"field": "trace"}}},
     {"data": {"values": [{"label":"wash","t":35.6,"ipsc":-69.2},{"label":"control","t":36.6,"ipsc":-76.3}]},
      "mark": {"type": "text", "fontSize": 11.5, "baseline": "middle", "color": "#a0a0a0"},
      "encoding": {"text": {"field": "label"}}},
     {"data": {"values": [{"label":"NPY","t":34.2,"ipsc":-98.2}]},
      "mark": {"type": "text", "fontSize": 11, "baseline": "middle"},
      "encoding": {"text": {"field": "label"}}},
     {"data": {"values": [{"label":"D","t":-12.67,"ipsc":25.1}]},
      "mark": {"type": "text", "fontSize": 31, "align": "left", "baseline": "alphabetic"},
      "encoding": {"text": {"field": "label"}}},
     {"data": {"values": [{"label":"ii","t":-9.47,"ipsc":20.1}]},
      "mark": {"type": "text", "fontSize": 18, "align": "left", "baseline": "alphabetic"},
      "encoding": {"text": {"field": "label"}}}
    ]
   }
  ], "spacing": 99, "bounds": "flush",
  "resolve": {"scale": {"color": "independent", "fill": "independent", "stroke": "independent", "shape": "independent"}, "legend": {"color": "independent", "fill": "independent", "stroke": "independent", "shape": "independent"}}}
 ]}
]
}
